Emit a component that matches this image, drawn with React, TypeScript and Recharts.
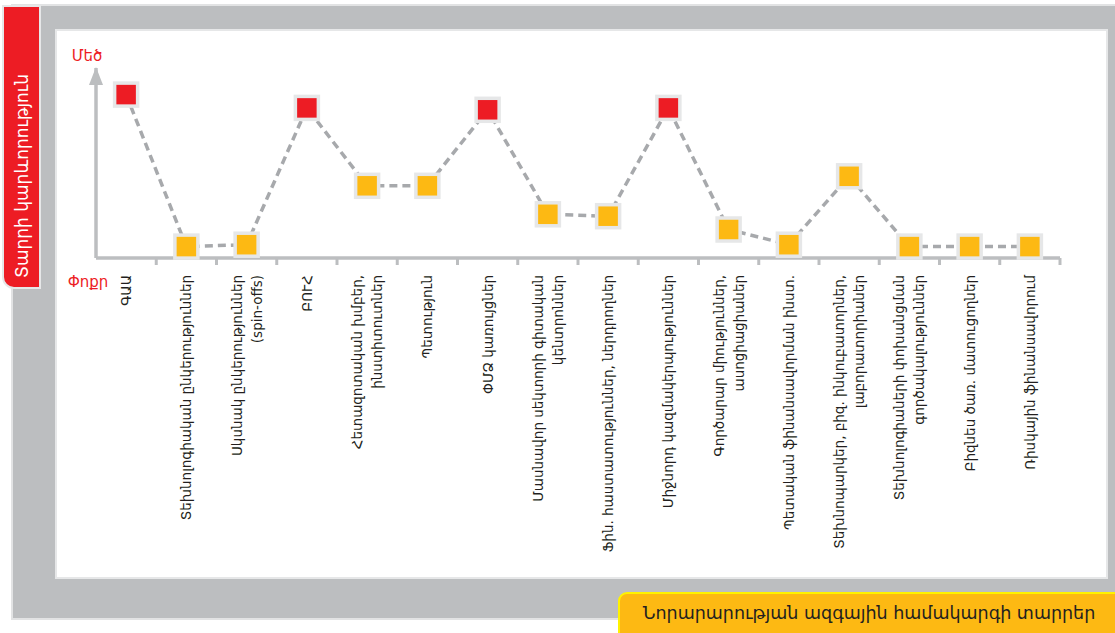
import React from "react";
import { LineChart, Line, XAxis, YAxis } from "recharts";

// element names, one entry per category (multi-line labels split into lines)
const categories: string[][] = [
  ["ԳԱԱ"],
  ["Տեխնոլոգիական ընկերություններ"],
  ["Սկսնակ ընկերություններ", "(spin-offs)"],
  ["ԲՈՒՀ"],
  ["Հետազոտական խմբեր,", "ինստիտուտներ"],
  ["Պետություն"],
  ["ՓՄՁ կառույցներ"],
  ["Մասնավոր սեկտորի գիտական", "կենտրոններ"],
  ["Ֆին. հաստատություններ, ներդրողներ"],
  ["Միջնորդ կազմակերպություններ"],
  ["Գործարար միություններ,", "ասոցիացիաներ"],
  ["Պետական ֆինանսավորման ինստ."],
  ["Տեխնոպարկեր, բիզ. ինկուբատորներ,", "լաբորատորիաներ"],
  ["Տեխնոլոգիաների փոխանցման", "գործակալություններ"],
  ["Բիզնես ծառ. մատուցողներ"],
  ["Ռիսկային ֆինանսավորում"],
];

// importance, 0 (small) .. 10 (big)
const importance = [8.6, 0.6, 0.7, 7.9, 3.8, 3.8, 7.8, 2.3, 2.2, 7.9, 1.5, 0.7, 4.3, 0.6, 0.6, 0.6];

const yTitle = "Տարրի կարևորություն";
const xTitle = "Նորարարության ազգային համակարգի տարրեր";
const yHigh = "Մեծ";
const yLow = "Փոքր";

const RED = "#ed1c24";
const ORANGE = "#fdb913";
const AXIS = "#bcbec0";
const FONT = "'DejaVu Sans', sans-serif";

const data = importance.map((v, i) => ({ idx: i, value: v }));

// labels sit on whole positions, the small tick marks on the band edges
const tickPositions: number[] = [];
categories.forEach((_, i) => {
  tickPositions.push(i);
  tickPositions.push(i + 0.5);
});

function CategoryTick(props: any) {
  const { x, y, payload } = props;
  const v = payload.value as number;
  if (!Number.isInteger(v)) {
    return <line x1={x} x2={x} y1={y - 8} y2={y - 1} stroke={AXIS} strokeWidth={3} />;
  }
  const lines = categories[v] || [];
  const ty = y + 9;
  const step = 20;
  return (
    <text
      x={x}
      y={ty}
      transform={`rotate(-90, ${x}, ${ty})`}
      textAnchor="end"
      fill="#231f20"
      fontSize={13.5}
      fontFamily={FONT}
    >
      {lines.map((l, k) => (
        <tspan key={k} x={x} dy={k === 0 ? (-(lines.length - 1) / 2) * step + 5 : step}>
          {l}
        </tspan>
      ))}
    </text>
  );
}

function SquareDot(props: any) {
  const { cx, cy, payload } = props;
  if (cx == null || cy == null) return null;
  const fill = payload.value > 6 ? RED : ORANGE;
  return <rect x={cx - 11.5} y={cy - 11.5} width={23} height={23} fill={fill} stroke="#e6e7e8" strokeWidth={3.5} />;
}

function AxisArrow(props: any) {
  const { viewBox } = props;
  const ax = viewBox.x + viewBox.width;
  const top = viewBox.y;
  const bottom = viewBox.y + viewBox.height;
  return (
    <g>
      <polygon points={`${ax},${top - 1} ${ax - 7},${top + 17} ${ax + 7},${top + 17}`} fill={AXIS} />
      <text x={ax - 9} y={top - 7} textAnchor="middle" fill={RED} fontSize={15} fontFamily={FONT}>
        {yHigh}
      </text>
      <text x={ax - 8} y={bottom + 29} textAnchor="middle" fill={RED} fontSize={15} fontFamily={FONT}>
        {yLow}
      </text>
    </g>
  );
}

export default function App() {
  return (
    <div style={{ position: "absolute", left: 0, top: 0, width: 1115, height: 633, overflow: "hidden", background: "#fff", fontFamily: FONT }}>
      {/* grey frame */}
      <div style={{ position: "absolute", left: 11, top: 4, width: 1110, height: 616, background: AXIS, border: "2px solid #e2e3e4", boxSizing: "border-box" }} />
      {/* white panel */}
      <div style={{ position: "absolute", left: 55, top: 29, width: 1053, height: 550, background: "#fff", border: "2px solid #e6e7e8", boxSizing: "border-box" }} />
      {/* red title tab */}
      <div style={{ position: "absolute", left: 2, top: 5, width: 39, height: 284, background: RED, border: "2px solid #e6e7e8", borderBottomLeftRadius: 12, boxSizing: "border-box" }} />
      <span style={{ position: "absolute", left: 12, top: 278, whiteSpace: "nowrap", color: "#fff", fontSize: 17, lineHeight: "20px", transform: "rotate(-90deg)", transformOrigin: "0 0" }}>
        {yTitle}
      </span>
      {/* orange caption */}
      <div style={{ position: "absolute", left: 618, top: 592, width: 510, height: 50, background: ORANGE, border: "2px solid #fff200", borderTopLeftRadius: 9, boxSizing: "border-box" }} />
      <div style={{ position: "absolute", left: 620, top: 593, width: 498, height: 41, lineHeight: "41px", textAlign: "center", color: "#231f20", fontSize: 17.5, whiteSpace: "nowrap" }}>
        {xTitle}
      </div>

      <div style={{ position: "absolute", left: 0, top: 0 }}>
        <LineChart width={1115} height={633} data={data} margin={{ top: 68, right: 55, bottom: 345, left: 56 }}>
          <XAxis
            dataKey="idx"
            type="number"
            domain={[-0.5, 15.5]}
            ticks={tickPositions}
            interval={0}
            tickLine={false}
            tick={<CategoryTick />}
            axisLine={{ stroke: AXIS, strokeWidth: 3.5 }}
            height={30}
          />
          <YAxis
            domain={[0, 10]}
            width={40}
            tick={false}
            tickLine={false}
            axisLine={{ stroke: AXIS, strokeWidth: 3.5 }}
            label={<AxisArrow />}
          />
          <Line
            type="linear"
            dataKey="value"
            stroke="#a7a9ac"
            strokeWidth={3.5}
            strokeDasharray="8 5"
            dot={<SquareDot />}
            activeDot={false}
            isAnimationActive={false}
          />
        </LineChart>
      </div>
    </div>
  );
}
